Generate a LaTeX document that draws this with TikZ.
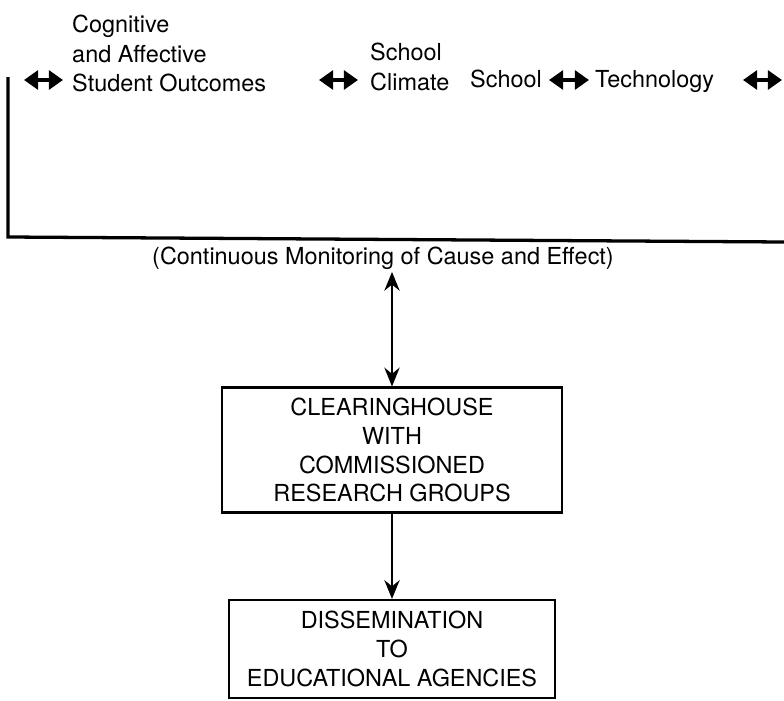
\documentclass[tikz,border=0pt]{standalone}
\usepackage{fontspec}
\setmainfont{TeX Gyre Heros}
\usetikzlibrary{arrows.meta}

\tikzset{
  txt/.style={inner sep=0pt, font=\fontsize{20}{25.2}\selectfont, align=left},
  box/.style={draw, line width=1.8pt, inner sep=0pt, align=center,
    font=\fontsize{20}{24.7}\selectfont},
  twoway/.style={{Triangle[length=12pt,width=16pt]}-{Triangle[length=12pt,width=16pt]},
    line width=3.2pt},
  both/.style={{Stealth[length=16pt,width=13pt]}-{Stealth[length=16pt,width=13pt]},
    line width=2.1pt},
  flow/.style={-{Stealth[length=16pt,width=13pt]}, line width=2.1pt},
}

\begin{document}
\begin{tikzpicture}[x=0.03cm,y=-0.03cm]
\useasboundingbox (0,0) rectangle (784,701);
% what is measured, along the top
\node[txt,anchor=north west] (cog) at (72,15) {Cognitive\\and Affective\\Student Outcomes};
\node[txt,anchor=north west] (climate) at (370,43) {School\\Climate};
\node[txt,anchor=base west] (school) at (470,87) {School};
\node[txt,anchor=base west] (tech) at (595,87) {Technology};
\coordinate (a1) at (24,80);  \coordinate (b1) at (63,80);
\coordinate (a2) at (319,80); \coordinate (b2) at (358,80);
\coordinate (a3) at (549,80); \coordinate (b3) at (589,80);
\coordinate (a4) at (743,80); \coordinate (b4) at (782,80);
\draw[twoway] (a1) -- (b1);
\draw[twoway] (a2) -- (b2);
\draw[twoway] (a3) -- (b3);
\draw[twoway] (a4) -- (b4);
% monitoring bracket
\draw[line width=2.8pt] (8,77) -- (8,237) -- (784,242);
\node[txt] (monitor) at (383,258) {(Continuous Monitoring of Cause and Effect)};
% boxes
\node[box,minimum width=10.2cm,minimum height=3.75cm] (clear) at (392,450)
  {CLEARINGHOUSE\\WITH\\COMMISSIONED\\RESEARCH GROUPS};
\node[box,minimum width=9.8cm,minimum height=2.94cm] (dissem) at (392,649)
  {DISSEMINATION\\TO\\EDUCATIONAL AGENCIES};
\draw[both,shorten <=2pt] (monitor.south -| clear.north) -- (clear.north);
\draw[flow] (clear.south) -- (dissem.north);
\end{tikzpicture}
\end{document}
